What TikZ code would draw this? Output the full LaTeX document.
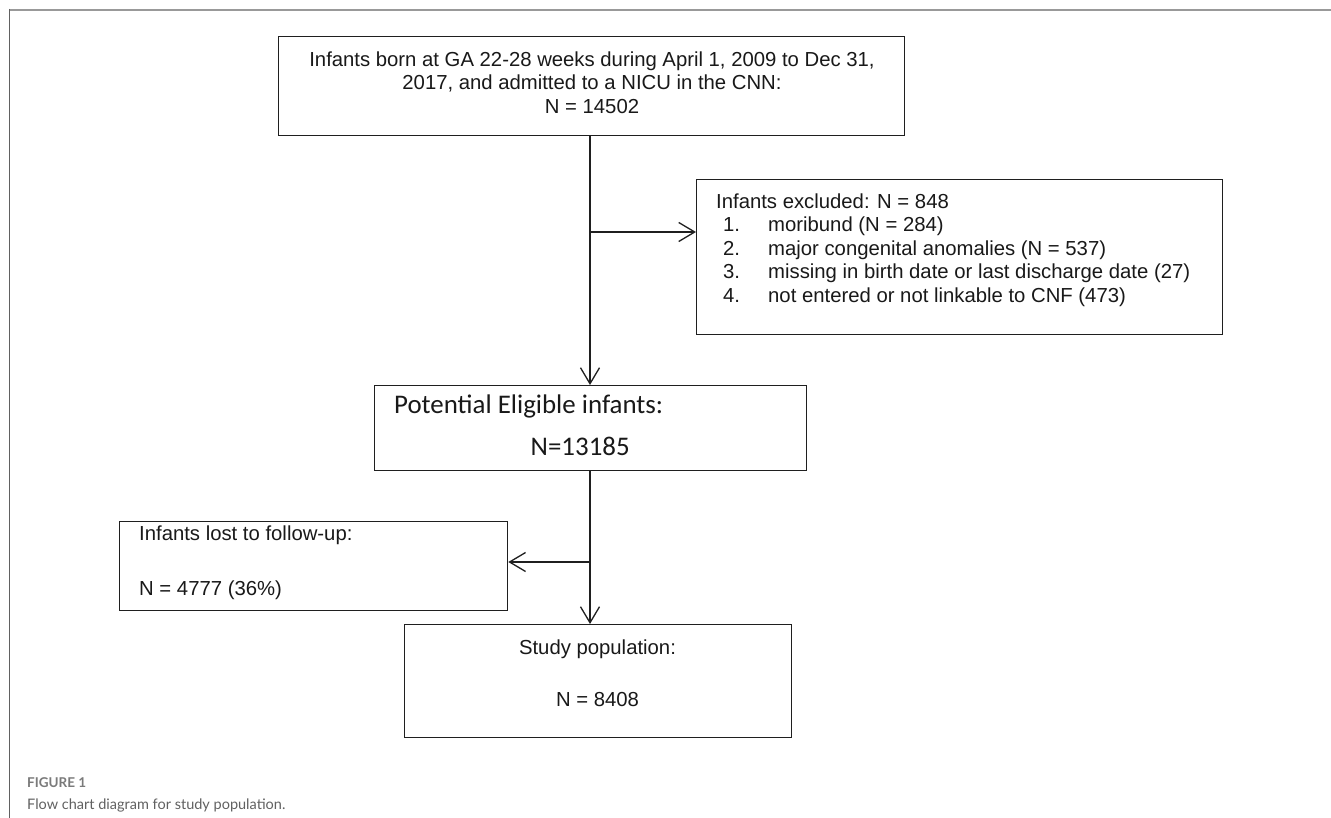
\documentclass[tikz,border=0pt]{standalone}
\usepackage{fontspec}
\setmainfont{Liberation Sans}
\newfontfamily\calfont{Carlito}
\newfontfamily\capfont{Lato}
\usetikzlibrary{arrows.meta}
\begin{document}
\begin{tikzpicture}[x=1pt,y=-1pt,
  box/.style={draw=black!88, line width=1.3pt, inner sep=0pt, anchor=north west},
  conn/.style={draw=black!88, line width=1.3pt},
  arr/.style={conn, -{Straight Barb[length=16pt,width=19pt,line width=1.3pt]}},
  txt/.style={inner sep=0pt, font=\fontsize{20.3}{23.5}\selectfont, text=black!90}]
\useasboundingbox (0,0) rectangle (1331,818);
\fill[white] (0,0) rectangle (1331,818);
% frame
\draw[color=black!40, line width=2pt] (9,10) -- (1331,10);
\draw[color=black!62, line width=1.5pt] (9.5,9) -- (9.5,818);
% boxes
\node[box, minimum width=626pt, minimum height=99pt] (top) at (278,36) {};
\node[box, minimum width=526pt, minimum height=155pt] (excl) at (696,179) {};
\node[box, minimum width=432pt, minimum height=85pt] (mid) at (374,385) {};
\node[box, minimum width=388pt, minimum height=89pt] (lost) at (119,521) {};
\node[box, minimum width=387pt, minimum height=113pt] (study) at (404,624) {};
% texts
\node[txt, anchor=base] (toptxt) at (592,66.3) {\begin{tabular}[t]{@{}c@{}}Infants born at GA 22-28 weeks during April 1, 2009 to Dec 31,\\ 2017, and admitted to a NICU in the CNN:\\ N = 14502\end{tabular}};
\node[txt, anchor=base west] (excltxt) at (716,208.3) {\begin{tabular}[t]{@{}l@{}}Infants excluded: N = 848\\
\hspace*{7pt}\makebox[45pt][l]{1.}moribund (N = 284)\\
\hspace*{7pt}\makebox[45pt][l]{2.}major congenital anomalies (N = 537)\\
\hspace*{7pt}\makebox[45pt][l]{3.}missing in birth date or last discharge date (27)\\
\hspace*{7pt}\makebox[45pt][l]{4.}not entered or not linkable to CNF (473)\end{tabular}};
\node[txt, font=\calfont\fontsize{26.9}{42}\selectfont, anchor=base west] (midtxt) at (394,413.7) {\begin{tabular}[t]{@{}l@{}}Potential Eligible infants:\\ \hspace*{136.5pt}N=13185\end{tabular}};
\node[txt, font=\fontsize{20.3}{55}\selectfont, anchor=base west] (losttxt) at (139,540.3) {\begin{tabular}[t]{@{}l@{}}Infants lost to follow-up:\\ N = 4777 (36\%)\end{tabular}};
\node[txt, font=\fontsize{20.3}{52}\selectfont, anchor=base] (studytxt) at (597.5,654.3) {\begin{tabular}[t]{@{}c@{}}Study population:\\ N = 8408\end{tabular}};
% connectors
\coordinate (spine) at (590,300);
\coordinate (j1) at (590,232);
\coordinate (j2) at (590,562);
\draw[arr] (top.south -| spine) -- (mid.north -| spine);
\draw[arr] (j1) -- (j1 -| excl.west);
\draw[arr] (mid.south -| spine) -- (study.north -| spine);
\draw[arr] (j2) -- (j2 -| lost.east);
% caption
\node[anchor=base west, inner sep=0pt, font=\capfont\bfseries\fontsize{13.5}{16}\selectfont, text=black!52] (figlab) at (27,787) {FIGURE 1};
\node[anchor=base west, inner sep=0pt, font=\capfont\fontsize{14.5}{17}\selectfont, text=black!62] (figcap) at (27,809) {Flow chart diagram for study population.};
\end{tikzpicture}
\end{document}
